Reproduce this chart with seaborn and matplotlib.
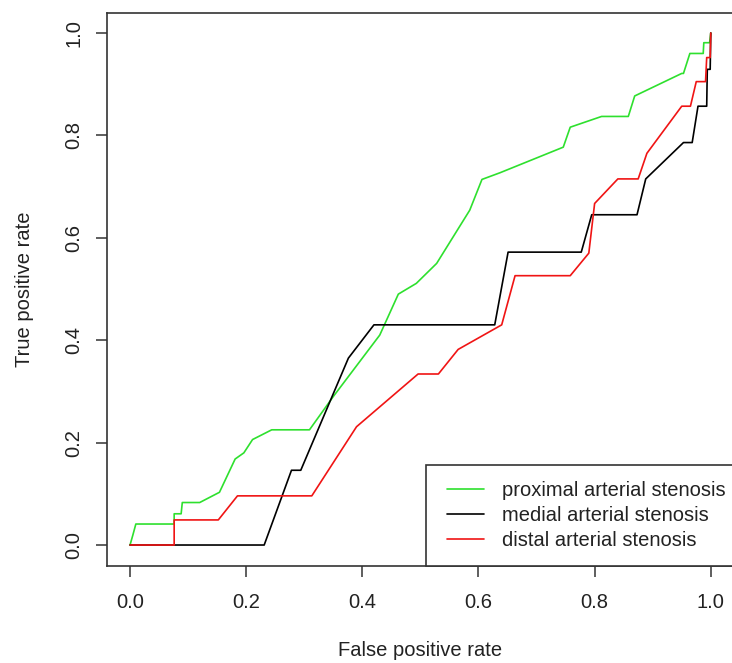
import matplotlib
matplotlib.use("Agg")
import matplotlib.pyplot as plt
from matplotlib.lines import Line2D
from matplotlib.legend_handler import HandlerLine2D
import seaborn as sns
import pandas as pd

# ---- data ----
series_names = ["proximal arterial stenosis", "medial arterial stenosis", "distal arterial stenosis"]

prox_fpr = [0, 0.005, 0.01, 0.076, 0.076, 0.088, 0.09, 0.12, 0.154, 0.181, 0.196, 0.211, 0.244, 0.309,
            0.35, 0.43, 0.462, 0.493, 0.528, 0.585, 0.606, 0.637, 0.746, 0.758, 0.812, 0.858, 0.869,
            0.95, 0.953, 0.964, 0.987, 0.988, 0.998, 1.0]
prox_tpr = [0, 0.02, 0.041, 0.041, 0.061, 0.061, 0.083, 0.083, 0.103, 0.168, 0.18, 0.206, 0.225, 0.225,
            0.29, 0.41, 0.49, 0.511, 0.55, 0.654, 0.714, 0.727, 0.777, 0.816, 0.837, 0.837, 0.877,
            0.921, 0.921, 0.96, 0.96, 0.981, 0.981, 1.0]

med_fpr = [0, 0.231, 0.278, 0.294, 0.376, 0.42, 0.628, 0.651, 0.777, 0.795, 0.873, 0.888, 0.953,
           0.968, 0.978, 0.993, 0.994, 0.999, 1.0]
med_tpr = [0, 0, 0.146, 0.146, 0.365, 0.43, 0.43, 0.572, 0.572, 0.645, 0.645, 0.715, 0.786,
           0.786, 0.857, 0.857, 0.929, 0.929, 1.0]

dist_fpr = [0, 0.076, 0.076, 0.152, 0.185, 0.313, 0.39, 0.496, 0.531, 0.565, 0.64, 0.663, 0.758,
            0.79, 0.8, 0.84, 0.875, 0.89, 0.95, 0.965, 0.975, 0.991, 0.993, 0.999, 1.0]
dist_tpr = [0, 0, 0.049, 0.049, 0.096, 0.096, 0.231, 0.334, 0.334, 0.382, 0.43, 0.526, 0.526,
            0.57, 0.667, 0.715, 0.715, 0.765, 0.857, 0.857, 0.905, 0.905, 0.952, 0.952, 1.0]

x_ticks = [0.0, 0.2, 0.4, 0.6, 0.8, 1.0]
y_ticks = [0.0, 0.2, 0.4, 0.6, 0.8, 1.0]
line_colors = ["#2ee02e", "#000000", "#f01414"]

# ---- build table ----
frames = []
for name, xs, ys in zip(series_names, [prox_fpr, med_fpr, dist_fpr], [prox_tpr, med_tpr, dist_tpr]):
    frames.append(pd.DataFrame({"fpr": xs, "tpr": ys, "series": name}))
df = pd.concat(frames, ignore_index=True)

sns.set_style("white")
plt.rcParams["font.family"] = ["Liberation Sans", "DejaVu Sans"]

FS = 14.5
fig = plt.figure(figsize=(7.32, 6.63), dpi=100)
L, R, B, T = 106.8, 734.0, 565.5, 12.5
W, H = 732.0, 663.0
ax = fig.add_axes([L / W, 1 - B / H, (R - L) / W, (B - T) / H])

sns.lineplot(data=df, x="fpr", y="tpr", hue="series", hue_order=series_names,
             palette=dict(zip(series_names, line_colors)), sort=False, estimator=None,
             linewidth=1.2, legend=False, ax=ax)

ax.set_xlim(-0.04, 1.04)
ax.set_ylim(-0.04, 1.04)
ax.set_xticks(x_ticks)
ax.set_yticks(y_ticks)
ax.set_xticklabels([f"{v:.1f}" for v in x_ticks], fontsize=FS, color="#222222")
ax.set_yticklabels([f"{v:.1f}" for v in y_ticks], fontsize=FS, color="#222222",
                   rotation=90, va="center")
ax.tick_params(axis="both", direction="out", length=8, width=1.1, color="#333333",
               bottom=True, left=True)
ax.tick_params(axis="x", pad=12)
ax.tick_params(axis="y", pad=9)
for s in ax.spines.values():
    s.set_color("#333333")
    s.set_linewidth(1.2)
    s.set_visible(True)

ax.set_xlabel("False positive rate", fontsize=FS, color="#222222", labelpad=21)
ax.set_ylabel("True positive rate", fontsize=FS, color="#222222", labelpad=22)

handles = ax.get_lines()[:3]
leg = ax.legend(handles, series_names, loc="lower left",
                bbox_to_anchor=(0.5085, 0.0, 0.4915, 0.2), mode="expand",
                borderaxespad=0, fontsize=FS, frameon=True, fancybox=False,
                edgecolor="#333333", framealpha=1, borderpad=0.78, labelspacing=0.3,
                handlelength=2.1, handletextpad=0.93,
                handler_map={Line2D: HandlerLine2D(xpad=0.27)})
leg.get_frame().set_linewidth(1.2)
for t in leg.get_texts():
    t.set_color("#222222")

fig.savefig("out.png", dpi=100)
